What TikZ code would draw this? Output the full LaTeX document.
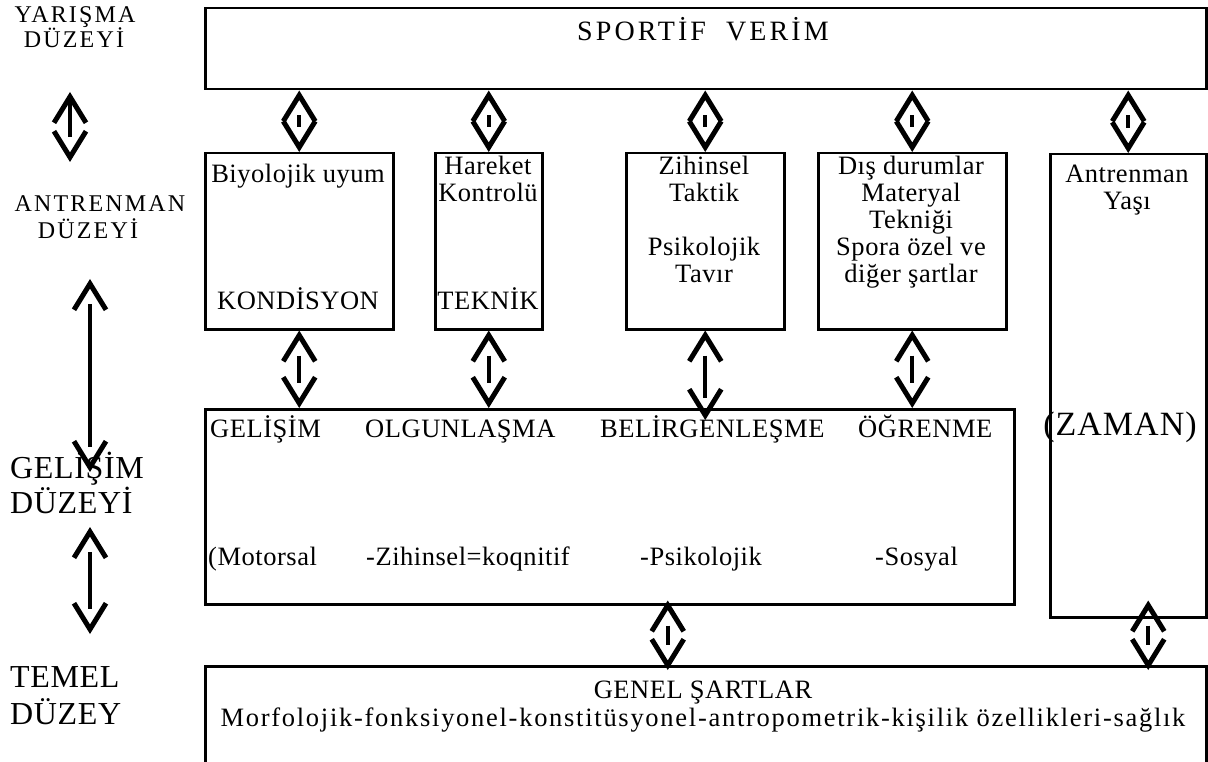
\documentclass[tikz,border=0pt]{standalone}
\usepackage{fontspec}
\setmainfont{Liberation Serif}[LetterSpace=2]
\usetikzlibrary{arrows.meta}
\begin{document}
\begin{tikzpicture}[x=1pt,y=-1pt,
  box/.style={draw,line width=2.5pt,inner sep=0pt,anchor=north west},
  lbl/.style={inner sep=0pt,font=\fontsize{26.5}{30}\selectfont,text height=18pt,text depth=6pt},
  side/.style={inner sep=0pt,font=\fontsize{24}{28}\selectfont\addfontfeature{LetterSpace=9},text height=17pt,text depth=5pt},
  big/.style={inner sep=0pt,font=\fontsize{32}{36}\selectfont,text height=22pt,text depth=7pt},
  vtip/.tip={Straight Barb[length=26pt,width=32pt,line width=5pt]},
  heads/.style={vtip-vtip,line width=4pt,dash pattern=on 0pt off 9000pt},
  shaft/.style={line width=4pt,shorten <=25pt,shorten >=25pt},
]
\useasboundingbox (0,0) rectangle (1208,762);

% level boxes
\node[box,minimum width=1001pt,minimum height=81pt] (top) at (204,7) {};
\node[box,minimum width=188pt,minimum height=176pt] (k1) at (204,152) {};
\node[box,minimum width=107pt,minimum height=176pt] (k2) at (434,152) {};
\node[box,minimum width=158pt,minimum height=176pt] (k3) at (625,152) {};
\node[box,minimum width=188pt,minimum height=176pt] (k4) at (817,152) {};
\node[box,minimum width=156pt,minimum height=463pt] (k5) at (1049,153) {};
\node[box,minimum width=809pt,minimum height=195pt] (gel) at (204,408) {};
\node[box,minimum width=1001pt,minimum height=130pt] (gen) at (204,665) {};

% texts inside the boxes
\node[lbl,font=\fontsize{28}{32}\selectfont\addfontfeature{LetterSpace=11}] (tsv) at (703,35) {SPORTİF\ \ VERİM};
\node[lbl] (t11) at (298,177) {Biyolojik uyum};
\node[lbl] (t12) at (298,303) {KONDİSYON};
\node[lbl] (t21) at (488,169) {Hareket};
\node[lbl] (t22) at (488,196) {Kontrolü};
\node[lbl] (t23) at (488,303) {TEKNİK};
\node[lbl] (t31) at (704,169) {Zihinsel};
\node[lbl] (t32) at (704,196) {Taktik};
\node[lbl] (t33) at (704,250) {Psikolojik};
\node[lbl] (t34) at (704,277) {Tavır};
\node[lbl] (t41) at (911,169) {Dış durumlar};
\node[lbl] (t42) at (911,196) {Materyal};
\node[lbl] (t43) at (911,223) {Tekniği};
\node[lbl] (t44) at (911,250) {Spora özel ve};
\node[lbl] (t45) at (911,277) {diğer şartlar};
\node[lbl] (t51) at (1127,177) {Antrenman};
\node[lbl] (t52) at (1127,204) {Yaşı};
\node[big,font=\fontsize{34}{38}\selectfont\addfontfeature{LetterSpace=3}] (tzm) at (1120,428) {(ZAMAN)};

\node[lbl,anchor=west] (g1) at (210,431) {GELİŞİM};
\node[lbl,anchor=west] (g2) at (365,431) {OLGUNLAŞMA};
\node[lbl,anchor=west] (g3) at (600,431) {BELİRGENLEŞME};
\node[lbl,anchor=west] (g4) at (858,431) {ÖĞRENME};
\node[lbl,anchor=west] (h1) at (208,559) {(Motorsal};
\node[lbl,anchor=west] (h2) at (366,559) {-Zihinsel=koqnitif};
\node[lbl,anchor=west] (h3) at (640,559) {-Psikolojik};
\node[lbl,anchor=west] (h4) at (875,559) {-Sosyal};

\node[lbl] (gs1) at (703,692) {GENEL ŞARTLAR};
\node[lbl,font=\fontsize{26.5}{30}\selectfont\addfontfeature{LetterSpace=6.5}] (gs2) at (703,720) {Morfolojik-fonksiyonel-konstitüsyonel-antropometrik-kişilik özellikleri-sağlık};

% level names on the left
\node[side] (y1) at (75,17) {YARIŞMA};
\node[side] (y2) at (74,42) {DÜZEYİ};
\node[side] (a1) at (100,206) {ANTRENMAN};
\node[side] (a2) at (88,233) {DÜZEYİ};
\node[big,anchor=west] (d1) at (10,471) {GELİŞİM};
\node[big,anchor=west] (d2) at (10,506) {DÜZEYİ};
\node[big,anchor=west] (m1) at (10,680) {TEMEL};
\node[big,anchor=west] (m2) at (10,717) {DÜZEY};

% end points of the connectors
\coordinate (p1a) at (top.south -| k1.north);
\coordinate (p2a) at (top.south -| k2.north);
\coordinate (p3a) at (top.south -| k3.north);
\coordinate (p4a) at (top.south -| k4.north);
\coordinate (p5a) at (top.south -| k5.north);
\coordinate (q1b) at (gel.north -| k1.south);
\coordinate (q2b) at (gel.north -| k2.south);
\coordinate (q3b) at ([yshift=-12pt]gel.north -| k3.south);
\coordinate (q4b) at (gel.north -| k4.south);
\coordinate (r1a) at ([xshift=58pt,yshift=5pt]gel.south);
\coordinate (r1b) at ([yshift=-5pt]gen.north -| r1a);
\coordinate (r2a) at ([xshift=20pt,yshift=18pt]k5.south);
\coordinate (r2b) at ([yshift=-5pt]gen.north -| r2a);
\coordinate (s1a) at (70,92);
\coordinate (s1b) at (70,162);
\coordinate (s2a) at (90,279);
\coordinate (s2b) at (90,472);
\coordinate (s3a) at (90,527);
\coordinate (s3b) at (90,634);

% two-headed connectors
\foreach \a/\b in {p1a/k1.north,p2a/k2.north,p3a/k3.north,p4a/k4.north,p5a/k5.north,
                   k1.south/q1b,k2.south/q2b,k4.south/q4b,r1a/r1b,r2a/r2b}{
  \draw[heads] (\a) -- (\b);
  \draw[shaft] (\a) -- (\b);
}
\draw[heads] (k3.south) -- (q3b);
\draw[shaft,shorten >=22pt] (k3.south) -- (q3b);
\draw[heads] (s1a) -- (s1b);
\draw[shaft,shorten <=8pt] (s1a) -- (s1b);
\draw[heads] (s2a) -- (s2b);
\draw[shaft] (s2a) -- (s2b);
\draw[heads] (s3a) -- (s3b);
\draw[shaft] (s3a) -- (s3b);
\end{tikzpicture}
\end{document}
